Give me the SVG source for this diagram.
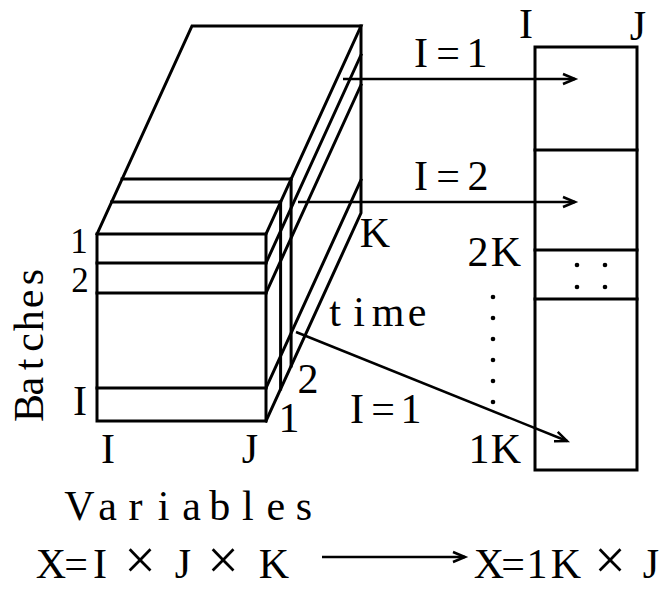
<svg xmlns="http://www.w3.org/2000/svg" width="668" height="590" viewBox="0 0 668 590">
<defs>
<style>
.ln{stroke:#000;stroke-width:3;fill:none;stroke-linejoin:miter;stroke-linecap:square}
.ar{stroke:#000;stroke-width:2.5;fill:none}
text{font-family:"Liberation Serif","Times New Roman",serif;font-size:42px;fill:#000;text-anchor:middle}
.big{font-size:56px}
.sm{font-size:35px}
.dot{fill:#000}
</style>
<marker id="ah" markerUnits="userSpaceOnUse" markerWidth="20" markerHeight="16" refX="16" refY="8" orient="auto" viewBox="0 0 20 16">
<path d="M4,3 L16,8 L4,13" fill="none" stroke="#000" stroke-width="2.5"/>
</marker>
</defs>
<rect width="668" height="590" fill="#fff"/>

<g id="cube">
<g class="ln">
<rect x="97" y="234" width="169" height="187"/>
<path d="M97,263 H266 M97,293 H266 M97,388 H266"/>
<path d="M97,234 L192,26 H361 L266,234"/>
<path d="M111.6,202 H280.6 M122.1,179 H291.1"/>
<path d="M361,26 V213 L266,421"/>
<path d="M266,263 L361,55 M266,293 L361,85 M266,388 L361,180"/>
<path d="M280.6,202 V389 M291.1,179 V366"/>
</g>
<text class="sm" x="79" y="253">1</text>
<text class="sm" x="80" y="292">2</text>
<text x="80" y="415">I</text>
<text x="108" y="463">I</text>
<text x="250" y="463">J</text>
<text x="289" y="432">1</text>
<text x="308" y="393">2</text>
<text x="375" y="247">K</text>
<text x="335 359 388 417" y="326">time</text>
<text transform="translate(43,0) rotate(-90)" x="-408 -386.2 -364.3 -342.5 -320.7 -298.8 -277" y="0">Batches</text>
<text x="79.5 107.6 135.6 163.7 191.7 219.8 247.9 275.9 304" y="520">Variables</text>
</g>

<g id="matrix">
<g class="ln">
<rect x="535" y="47" width="102" height="423"/>
<path d="M535,150 H637 M535,250 H637 M535,299 H637"/>
</g>
<circle class="dot" cx="577" cy="265" r="2.3"/>
<circle class="dot" cx="605" cy="265" r="2.3"/>
<circle class="dot" cx="577" cy="287" r="2.3"/>
<circle class="dot" cx="605" cy="287" r="2.3"/>
<circle class="dot" cx="493" cy="297" r="2.3"/>
<circle class="dot" cx="493" cy="318" r="2.3"/>
<circle class="dot" cx="493" cy="339" r="2.3"/>
<circle class="dot" cx="493" cy="360" r="2.3"/>
<circle class="dot" cx="493" cy="381" r="2.3"/>
<circle class="dot" cx="493" cy="402" r="2.3"/>
<text x="526" y="38">I</text>
<text x="638" y="40">J</text>
<text x="478 506" y="266">2K</text>
<text x="479 506" y="463">1K</text>
</g>

<g id="formulas">
<text x="51 76 100 140 183 223 274" y="578 578 578 579 578 579 578">X=I<tspan class="big">×</tspan>J<tspan class="big">×</tspan>K</text>
<text x="489 513 537 566 610 651" y="578 578 578 578 579 578">X=1K<tspan class="big">×</tspan>J</text>
</g>

<g id="connectors">
<path class="ar" d="M343,79 H575" marker-end="url(#ah)"/>
<path class="ar" d="M298,202 H575" marker-end="url(#ah)"/>
<path class="ar" d="M296,332 L567,441" marker-end="url(#ah)"/>
<path class="ar" d="M322,557 H465" marker-end="url(#ah)"/>
<text x="421 448 477" y="67">I=1</text>
<text x="421 448 478" y="190">I=2</text>
<text x="357 383 411" y="423">I=1</text>
</g>
</svg>
